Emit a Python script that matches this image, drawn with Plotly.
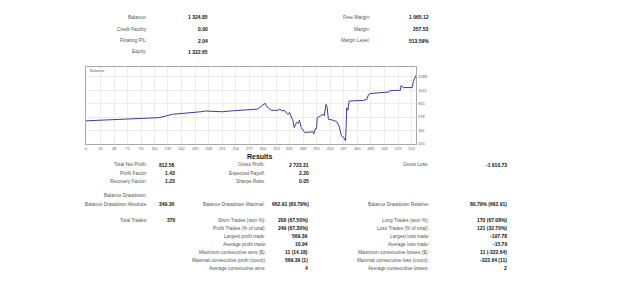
import plotly.graph_objects as go

W, H = 625, 284

# ---- data ----
trade_x = [0, 88, 92, 124, 147, 186, 195, 203, 231, 243, 266, 291, 300, 304, 306, 314, 326, 329, 332, 336,
           342, 345, 351, 353, 357, 360, 362, 365, 371, 385, 386, 389, 391, 392, 397, 402, 404, 407, 409,
           411, 419, 425, 429, 433, 437, 440, 441, 442, 444, 446, 453, 470, 476, 479, 482, 513, 517, 533,
           534, 538, 553, 555, 560]
balance = [512, 555, 565, 568, 627, 655, 672, 684, 672, 684, 700, 718, 790, 820, 770, 697, 697, 724, 684, 700,
           627, 660, 510, 394, 481, 470, 523, 394, 307, 319, 279, 376, 376, 568, 597, 627, 600, 801, 742,
           540, 523, 498, 423, 249, 220, 160, 394, 742, 697, 858, 864, 871, 888, 975, 992, 1020, 1045, 1050,
           1132, 1097, 1097, 1206, 1320]
x_ticks = [0, 25, 48, 71, 94, 116, 139, 162, 185, 208, 231, 254, 277, 300, 323, 345, 368, 391, 414, 437,
           460, 483, 506, 529, 552]
y_ticks = [105, 341, 578, 815, 1051, 1288]

account_left = [("Balance:", "1 324.85"), ("Credit Facility:", "0.00"), ("Floating P/L:", "2.04"),
                ("Equity:", "1 322.65")]
account_right = [("Free Margin:", "1 065.12"), ("Margin:", "257.53"), ("Margin Level:", "513.59%")]

res_col1 = [("Total Net Profit:", "812.58"), ("Profit Factor:", "1.43"), ("Recovery Factor:", "1.23")]
res_col2 = [("Gross Profit:", "2 723.31"), ("Expected Payoff:", "2.20"), ("Sharpe Ratio:", "0.05")]
res_col3 = [("Gross Loss:", "-1 910.73")]
dd_row = [("Balance Drawdown Absolute:", "349.36"), ("Balance Drawdown Maximal:", "662.91 (80.79%)"),
          ("Balance Drawdown Relative:", "80.79% (662.91)")]
trades_mid = [("Short Trades (won %):", "200 (67.50%)"), ("Profit Trades (% of total):", "249 (67.30%)"),
              ("Largest profit trade:", "569.39"), ("Average profit trade:", "10.94"),
              ("Maximum consecutive wins ($):", "11 (14.18)"),
              ("Maximal consecutive profit (count):", "569.39 (1)"), ("Average consecutive wins:", "4")]
trades_right = [("Long Trades (won %):", "170 (67.08%)"), ("Loss Trades (% of total):", "121 (32.70%)"),
                ("Largest loss trade:", "-197.78"), ("Average loss trade:", "-15.79"),
                ("Maximum consecutive losses ($):", "11 (-322.64)"),
                ("Maximal consecutive loss (count):", "-322.64 (11)"), ("Average consecutive losses:", "2")]

FONT = "Liberation Sans"
LBL = dict(family=FONT, size=4.8, color="#555555")
VAL = dict(family=FONT, size=5, color="#111111")

fig = go.Figure()
fig.add_trace(go.Scatter(x=trade_x, y=balance, mode="lines",
                         line=dict(color="#3c3c9c", width=1), hoverinfo="skip"))

ann = []
def txt(px, py, s, font, anchor="right", bold=False):
    ann.append(dict(x=px / W, y=1 - py / H, xref="paper", yref="paper",
                    text=("<b>%s</b>" % s) if bold else s, showarrow=False,
                    xanchor=anchor, yanchor="middle", font=font))

ys_top = [17.3, 29.3, 41, 52.3]
for (l, v), y in zip(account_left, ys_top):
    txt(148, y, l, LBL); txt(209, y, v, VAL, bold=True)
for (l, v), y in zip(account_right, ys_top):
    txt(372, y, l, LBL); txt(431, y, v, VAL, bold=True)

RX_L, RX_V = 431, 509
txt(259, 158, "Results", dict(family=FONT, size=7, color="#111111"), anchor="center", bold=True)
ys_res = [166, 174.3, 182.6]
for (l, v), y in zip(res_col1, ys_res):
    txt(148, y, l, LBL); txt(176, y, v, VAL, bold=True)
for (l, v), y in zip(res_col2, ys_res):
    txt(266, y, l, LBL); txt(310, y, v, VAL, bold=True)
for (l, v), y in zip(res_col3, ys_res):
    txt(RX_L, y, l, LBL); txt(RX_V, y, v, VAL, bold=True)
txt(148, 197, "Balance Drawdown:", LBL)
for (l, v), (lx, vx) in zip(dd_row, [(148, 176), (266, 310), (RX_L, RX_V)]):
    txt(lx, 205.5, l, LBL); txt(vx, 205.5, v, VAL, bold=True)

ys_tr = [222, 230, 238, 246, 254, 262, 270]
txt(148, ys_tr[0], "Total Trades:", LBL); txt(177, ys_tr[0], "370", VAL, bold=True)
for (l, v), y in zip(trades_mid, ys_tr):
    txt(267.7, y, l, LBL); txt(309.5, y, v, VAL, bold=True)
for (l, v), y in zip(trades_right, ys_tr):
    txt(RX_L, y, l, LBL); txt(RX_V, y, v, VAL, bold=True)

txt(87, 71, "Balance", dict(family=FONT, size=4, color="#666666"), anchor="left")

fig.update_layout(
    width=W, height=H, margin=dict(l=0, r=0, t=0, b=0),
    paper_bgcolor="white", plot_bgcolor="white", showlegend=False,
    annotations=ann,
    xaxis=dict(domain=[85 / W, 416 / W], range=[0, 560], tickvals=x_ticks,
               showgrid=True, gridcolor="#ececec", gridwidth=1, zeroline=False,
               showline=True, linecolor="#a8a8a8", linewidth=1, mirror=True,
               ticks="", tickfont=dict(family=FONT, size=4, color="#666666")),
    yaxis=dict(domain=[1 - 145 / H, 1 - 67 / H], range=[105, 1467], tickvals=y_ticks,
               side="right", showgrid=True, gridcolor="#ececec", gridwidth=1, zeroline=False,
               showline=True, linecolor="#a8a8a8", linewidth=1, mirror=True,
               ticks="", tickfont=dict(family=FONT, size=4, color="#666666")),
)

fig.write_html("out.html")
